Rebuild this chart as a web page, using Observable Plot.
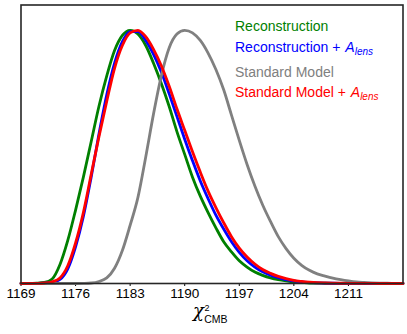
<!DOCTYPE html>
<html>
<head>
<meta charset="utf-8">
<script src="https://cdn.jsdelivr.net/npm/d3@7"></script>
<script src="https://cdn.jsdelivr.net/npm/@observablehq/plot@0.6"></script>
<style>
  body { margin: 0; background: #fff; }
  #chart svg { display: block; }
</style>
</head>
<body>
<div id="chart"></div>
<script>
const chi2 = [1169,1170,1171,1172,1173,1174,1175,1176,1177,1178,1179,1180,1181,1182,1183,1184,1185,1186,1187,1188,1189,1190,1191,1192,1193,1194,1195,1196,1197,1198,1199,1200,1201,1202,1203,1204,1205,1206,1207,1208,1209,1210,1211,1212,1213,1214,1215,1216,1217,1218];

const reconstruction = [0,0,0.001,0.004,0.018,0.075,0.17,0.29,0.42,0.56,0.70,0.82,0.92,0.98,1.00,0.985,0.94,0.87,0.79,0.70,0.60,0.51,0.42,0.345,0.28,0.22,0.165,0.125,0.09,0.065,0.045,0.032,0.022,0.015,0.010,0.006,0.004,0.002,0.0015,0.001,0.0007,0.0005,0.0003,0.0002,0.0001,0,0,0,0,0];

const reconstructionAlens = [0,0,0.0003,0.001,0.004,0.016,0.058,0.145,0.265,0.42,0.59,0.745,0.87,0.955,0.995,0.995,0.96,0.905,0.835,0.75,0.66,0.57,0.485,0.405,0.335,0.27,0.215,0.165,0.123,0.09,0.065,0.046,0.033,0.023,0.015,0.01,0.006,0.004,0.0025,0.0015,0.001,0.0007,0.0005,0.0003,0.0002,0.0001,0,0,0,0];

const standardModel = [0,0,0,0,0,0,0,0,0.0005,0.002,0.008,0.022,0.06,0.13,0.23,0.34,0.50,0.67,0.82,0.93,0.985,1.00,0.99,0.96,0.91,0.845,0.765,0.665,0.565,0.47,0.385,0.31,0.245,0.185,0.138,0.10,0.072,0.052,0.038,0.029,0.021,0.015,0.010,0.006,0.004,0.0025,0.0015,0.001,0.0005,0.0003];

const standardModelAlens = [0,0,0.0005,0.002,0.007,0.022,0.07,0.16,0.28,0.43,0.58,0.72,0.85,0.94,0.99,1.00,0.975,0.925,0.86,0.78,0.69,0.605,0.52,0.44,0.365,0.30,0.24,0.185,0.14,0.105,0.077,0.055,0.04,0.028,0.019,0.012,0.008,0.005,0.003,0.002,0.0014,0.001,0.0007,0.0005,0.0003,0.0002,0.0001,0,0,0];

const xTicks = [1169,1176,1183,1190,1197,1204,1211];

const seriesNames = ["Reconstruction", "Reconstruction + A_lens", "Standard Model", "Standard Model + A_lens"];
const seriesColors = ["#008000", "#0000ff", "#808080", "#ff0000"];
const seriesValues = [reconstruction, reconstructionAlens, standardModel, standardModelAlens];

const rows = seriesValues.flatMap((vals, i) =>
  chi2.map((x, j) => ({x, y: vals[j], series: seriesNames[i]}))
);

const plot = Plot.plot({
  width: 407,
  height: 334,
  marginLeft: 20.5,
  marginRight: 4.5,
  marginTop: 4.5,
  marginBottom: 51,
  style: {fontFamily: "Liberation Sans, Arial, sans-serif", fontSize: "13px", color: "#000", background: "#fff"},
  x: {domain: [1169, 1218], ticks: xTicks, tickFormat: d3.format("d"), tickSize: 3, tickPadding: 1.5, label: null},
  y: {domain: [0, 1.1], axis: null},
  color: {domain: seriesNames, range: seriesColors},
  marks: [
    ...seriesNames.map(name =>
      Plot.line(rows.filter(d => d.series === name), {
        x: "x", y: "y", stroke: "series", strokeWidth: 2.8, curve: "monotone-x"
      })
    ),
    Plot.frame({stroke: "#262626", strokeWidth: 1.6})
  ]
});

document.getElementById("chart").appendChild(plot);

const svg = d3.select(plot);
svg.selectAll("g[aria-label='x-axis tick label'] text").style("font-size", "13.5px");

// Legend (text only, coloured)
const legend = svg.append("g")
  .attr("font-family", "Liberation Sans, Arial, sans-serif")
  .attr("font-size", 14)
  .attr("text-anchor", "start");
const legendRows = [
  {y: 31, name: "Reconstruction", alens: false, color: seriesColors[0]},
  {y: 52, name: "Reconstruction", alens: true, color: seriesColors[1]},
  {y: 77, name: "Standard Model", alens: false, color: seriesColors[2]},
  {y: 96.5, name: "Standard Model", alens: true, color: seriesColors[3]}
];
legendRows.forEach(r => {
  const t = legend.append("text").attr("x", 235).attr("y", r.y).attr("fill", r.color).style("white-space", "pre");
  t.append("tspan").text(r.name + (r.alens ? " + " : ""));
  if (r.alens) {
    t.append("tspan").attr("font-style", "italic").attr("dx", 1).text("A");
    t.append("tspan").attr("font-style", "italic").attr("font-size", 10).attr("dy", 3).text("lens");
  }
});

// x-axis label: χ²_CMB as one text element
const lab = svg.append("text")
  .attr("x", 193).attr("y", 317)
  .attr("text-anchor", "start").attr("fill", "#000")
  .attr("font-family", "Liberation Sans, Arial, sans-serif");
lab.append("tspan").attr("font-family", "DejaVu Serif, serif").attr("font-style", "italic").attr("font-size", 18).text("χ");
lab.append("tspan").attr("font-size", 9).attr("dx", 0.5).attr("dy", -6.5).text("2");
lab.append("tspan").attr("font-size", 10.5).attr("dx", -5.2).attr("dy", 12.5).text("CMB");
</script>
</body>
</html>
